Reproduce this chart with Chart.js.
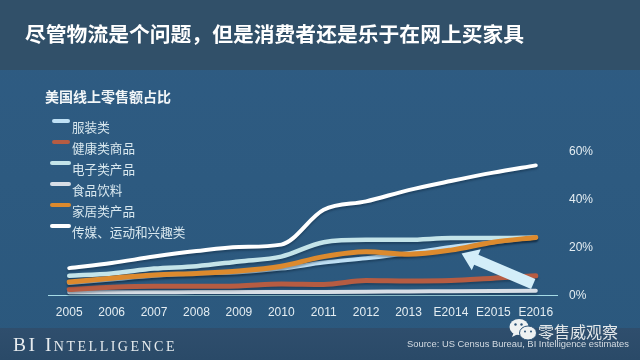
<!DOCTYPE html>
<html><head><meta charset="utf-8">
<script src="https://cdn.jsdelivr.net/npm/chart.js@4"></script>
<style>
html,body{margin:0;padding:0;width:640px;height:360px;overflow:hidden;background:#2e5b81}
#stage{position:relative;width:640px;height:360px;background:linear-gradient(#2f5c83,#2b587d);overflow:hidden}
#head{position:absolute;left:0;top:0;width:640px;height:70px;background:#315069}
#foot{position:absolute;left:0;top:328px;width:640px;height:32px;background:linear-gradient(#2f4e6d,#2a4a68)}
canvas{position:absolute;left:0;top:0}
.t{position:absolute;white-space:nowrap;line-height:1}
#title{left:25px;top:22px;font:bold 20.8px "Noto Sans CJK SC";color:#fff;line-height:22px}
#sub{left:45px;top:89px;font:bold 14px "Noto Sans CJK SC";color:#f2f6f8;line-height:14px}
#brand{left:13px;top:335px;font:19.5px "Liberation Serif";font-variant:small-caps;letter-spacing:2.5px;color:#e6ebee;line-height:20px}
#src{left:407px;top:338px;font:9.4px "Liberation Sans";color:#d4dbe2;line-height:11px}
#wm{left:538px;top:323px;font:16px "Noto Sans CJK SC";color:#e4e8ea;line-height:17px}
#icon{position:absolute;left:508px;top:318px}
.lg{position:absolute;left:72px;font:12.6px "Noto Sans CJK SC";color:#d9e8ef;line-height:14px;white-space:nowrap}
.sw{position:absolute;height:4px;border-radius:2px}
</style></head>
<body><div id="stage">
<div id="head"></div><div id="foot"></div>
<canvas id="c" width="640" height="360"></canvas>
<div class="t" id="title">尽管物流是个问题，但是消费者还是乐于在网上买家具</div>
<div class="t" id="sub">美国线上零售额占比</div>
<div id="legend"></div>
<div class="t" id="brand">BI Intelligence</div>
<svg id="icon" width="30" height="26" viewBox="0 0 30 26">
<ellipse cx="11" cy="9" rx="9.5" ry="8" fill="#eef1f2"/><path d="M6 14l-2 5 6-3z" fill="#eef1f2"/>
<ellipse cx="20" cy="15" rx="8.5" ry="7" fill="#eef1f2" stroke="#2d5478" stroke-width="1"/>
<circle cx="7.5" cy="6.5" r="1.2" fill="#2d5478"/><circle cx="13.5" cy="6.5" r="1.2" fill="#2d5478"/>
<circle cx="17" cy="13.5" r="1" fill="#2d5478"/><circle cx="23" cy="13.5" r="1" fill="#2d5478"/>
</svg>
<div class="t" id="wm">零售威观察</div>
<div class="t" id="src">Source: US Census Bureau, BI Intelligence  estimates</div>
</div>
<script>
const categories = ['2005','2006','2007','2008','2009','2010','2011','2012','2013','E2014','E2015','E2016'];
const seriesNames = ['服装类','健康类商品','电子类产品','食品饮料','家居类产品','传媒、运动和兴趣类'];
const apparel = [5,6.5,8,9,9.5,11,13.5,15.3,17.4,20,22,24];
const health  = [2.3,3.2,3.6,3.6,3.8,4.6,4.4,6,5.8,6,7,8];
const electronics = [8,9,11,12,14,16,22,23,23,23.7,23.7,24];
const food = [1.1,1.1,1.1,1.2,1.2,1.2,1.3,1.4,1.5,1.6,1.7,1.8];
const home = [5.4,7,8.3,9,10,12,16,18,17,18.7,22,24];
const media = [11.2,13.3,16,18.3,20,21,35.5,39,43.7,47.5,51,54];
const yTicks = [0,20,40,60];
const colors = ['#bfe0f5','#b65c42','#c4e4e9','#d8dee6','#dc8a2e','#ffffff'];
const widths = [4,5,4.5,4,5,4];
const arrowTail = {i:10.94, v:4.6};
const arrowTip = {i:9.25, v:17.3};

const allValues = [apparel,health,electronics,food,home,media];
const legendTops = [121,142,163,184,205,226];
const L = document.getElementById('legend');
seriesNames.forEach((n,k)=>{
  const s=document.createElement('div');s.className='sw';
  s.style.cssText='left:'+(k<2?52:50)+'px;width:'+(k<2?18:21)+'px;top:'+(legendTops[k]-2)+'px;background:'+colors[k];
  L.appendChild(s);
  const d=document.createElement('div');d.className='lg';d.textContent=n;
  d.style.top=(legendTops[k]-1)+'px';L.appendChild(d);
});
const shadow={id:'shadow',
  beforeDatasetDraw(ch){const c=ch.ctx;c.save();c.shadowColor='rgba(10,30,50,.35)';c.shadowBlur=2;c.shadowOffsetY=2;},
  afterDatasetDraw(ch){ch.ctx.restore();}};
const arrow={id:'arrow',afterDatasetsDraw(ch){
  const x=ch.scales.x,y=ch.scales.y,c=ch.ctx;
  const x0=x.getPixelForValue(arrowTail.i),y0=y.getPixelForValue(arrowTail.v);
  const x1=x.getPixelForValue(arrowTip.i),y1=y.getPixelForValue(arrowTip.v);
  const a=Math.atan2(y1-y0,x1-x0),len=Math.hypot(x1-x0,y1-y0);
  c.save();c.translate(x0,y0);c.rotate(a);c.fillStyle='#d3eef9';
  c.beginPath();c.moveTo(0,-5.5);c.lineTo(len-16,-5.5);c.lineTo(len-16,-11.5);c.lineTo(len,0);
  c.lineTo(len-16,11.5);c.lineTo(len-16,5.5);c.lineTo(0,5.5);c.closePath();c.fill();c.restore();
}};
new Chart(document.getElementById('c'),{
  type:'line',
  data:{labels:categories,datasets:seriesNames.map((n,k)=>({
    label:n,data:allValues[k],borderColor:colors[k],backgroundColor:colors[k],
    borderWidth:widths[k],borderCapStyle:'round',borderJoinStyle:'round',
    pointRadius:0,tension:0.4,cubicInterpolationMode:'monotone',clip:false,
    order:[3,4,2,5,1,0][k]}))},
  options:{responsive:false,animation:false,
    layout:{padding:{left:48,top:151,right:0,bottom:0}},
    plugins:{legend:{display:false},title:{display:false},tooltip:{enabled:false}},
    scales:{
      x:{offset:true,grid:{display:false,drawTicks:false},border:{display:true,color:'#a6dbe6',width:1},
        afterFit(s){s.height=65;},
        ticks:{color:'#e4edf2',font:{family:'Liberation Sans',size:12},padding:10,maxRotation:0,autoSkip:false}},
      y:{position:'right',min:0,max:60,grid:{display:false,drawTicks:false},border:{display:false},
        afterFit(s){s.width=83;},
        afterBuildTicks(s){s.ticks=yTicks.map(v=>({value:v}));},
        ticks:{color:'#e4edf2',font:{family:'Liberation Sans',size:12},padding:12,labelOffset:1,callback:v=>v+'%'}}
    }},
  plugins:[shadow,arrow]
});
</script>
</body></html>
